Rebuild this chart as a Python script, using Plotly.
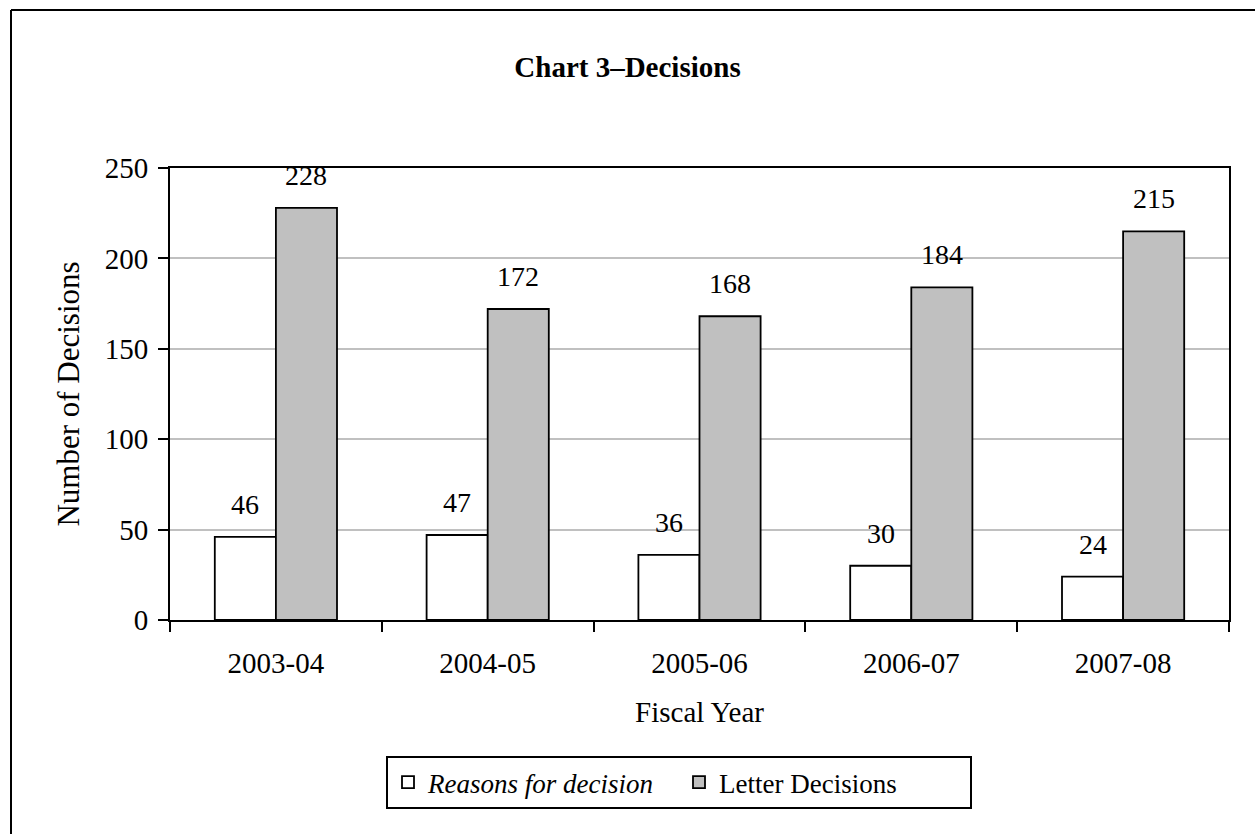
import plotly.graph_objects as go

years = ["2003-04", "2004-05", "2005-06", "2006-07", "2007-08"]
reasons = [46, 47, 36, 30, 24]
letters = [228, 172, 168, 184, 215]

W, H = 1255, 834
L, R, T, B = 170, 26, 168, 214
pw, ph = W - L - R, H - T - B
FONT = "Liberation Serif, Times New Roman, serif"

def px_x(px):
    return (px - L) / pw

def px_y(py):
    return (H - B - py) / ph

fig = go.Figure()
fig.add_trace(go.Bar(x=years, y=reasons, name="<i>Reasons for decision</i>",
                     marker=dict(color="white", line=dict(color="black", width=1.8))))
fig.add_trace(go.Bar(x=years, y=letters, name="Letter Decisions",
                     marker=dict(color="#c0c0c0", line=dict(color="black", width=1.8))))

# data labels
for series, shift in ((reasons, -30.5), (letters, 30.5)):
    for yr, v in zip(years, series):
        fig.add_annotation(x=yr, y=v, text=str(v), showarrow=False, xshift=shift,
                           yanchor="bottom", yshift=15,
                           font=dict(family=FONT, size=28, color="black"))

# outer border (left and top visible)
fig.add_shape(type="line", xref="paper", yref="paper", x0=px_x(11), x1=px_x(11),
              y0=px_y(10), y1=px_y(900), line=dict(color="black", width=2))
fig.add_shape(type="line", xref="paper", yref="paper", x0=px_x(11), x1=px_x(1300),
              y0=px_y(10), y1=px_y(10), line=dict(color="black", width=2))

fig.update_layout(
    width=W, height=H,
    margin=dict(l=L, r=R, t=T, b=B),
    paper_bgcolor="white", plot_bgcolor="white",
    barmode="group", bargap=0.423, bargroupgap=0,
    font=dict(family=FONT, size=29, color="black"),
    title=dict(text="<b>Chart 3–Decisions</b>", x=0.5, xref="container", xanchor="center",
               y=1 - 67 / H, yref="container", yanchor="middle",
               font=dict(family=FONT, size=29, color="black")),
    legend=dict(orientation="h", x=px_x(386), xanchor="left", y=px_y(756), yanchor="top",
                bordercolor="black", borderwidth=2, bgcolor="white",
                entrywidth=246, entrywidthmode="pixels",
                font=dict(family=FONT, size=27, color="black"),
                traceorder="normal"),
    showlegend=True,
)
fig.update_xaxes(
    type="category",
    showline=True, linecolor="black", linewidth=2, mirror=True,
    ticks="outside", ticklen=10, tickwidth=2, tickcolor="black", tickson="boundaries",
    showgrid=False,
    ticklabelstandoff=16,
    title=dict(text="Fiscal Year", standoff=24, font=dict(family=FONT, size=29)),
    tickfont=dict(family=FONT, size=29),
)
fig.update_yaxes(
    range=[0, 250], dtick=50,
    showline=True, linecolor="black", linewidth=2, mirror=True,
    ticks="outside", ticklen=10, tickwidth=2, tickcolor="black",
    showgrid=True, gridcolor="#c0c0c0", gridwidth=1.5,
    zeroline=False,
    ticklabelstandoff=4,
    title=dict(text="Number of Decisions", standoff=16, font=dict(family=FONT, size=31)),
    tickfont=dict(family=FONT, size=29),
)

fig.write_html("out.html")
